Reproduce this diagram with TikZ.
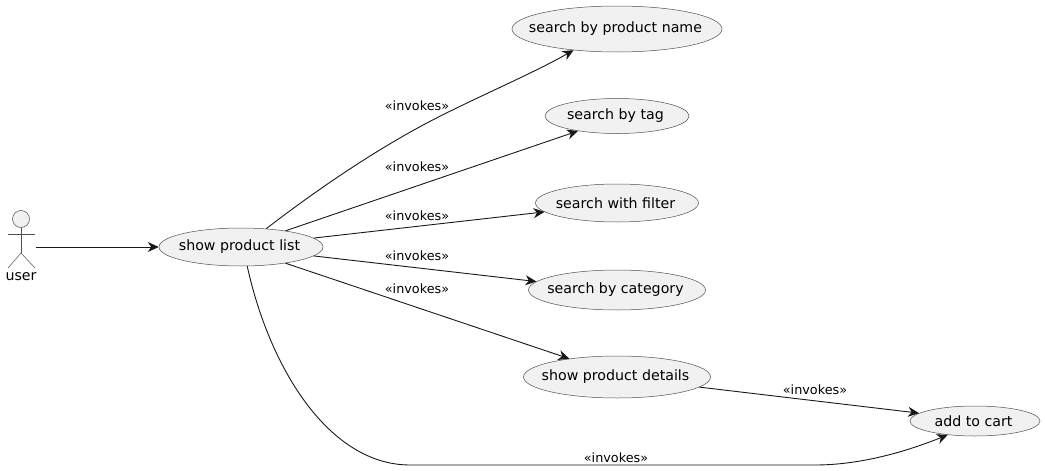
\documentclass[tikz,border=0pt]{standalone}
\usepackage{fontspec}
\setmainfont{DejaVu Sans}
\usetikzlibrary{arrows.meta}
\usetikzlibrary{shapes.geometric}

\definecolor{linec}{HTML}{181818}
\definecolor{thinc}{HTML}{505050}
\definecolor{fillc}{HTML}{F1F1F1}

\newcommand{\uctext}[1]{\makebox[0pt]{#1\kern3pt}}

\tikzset{
  usecase/.style={ellipse, draw=thinc, line width=0.5pt, fill=fillc, inner sep=0pt, font=\fontsize{14.2}{16}\selectfont},
  invokes/.style={inner sep=0pt, font=\fontsize{12.8}{15}\selectfont},
  actorline/.style={draw=thinc, line width=0.5pt},
  edge/.style={draw=linec, line width=0.9pt, -{Stealth[length=11pt,width=10pt,inset=3.5pt]}},
}

\begin{document}
\begin{tikzpicture}[x=1pt, y=1pt, node distance=87pt]
\useasboundingbox (0,0) rectangle (1045,-471);
% use cases
\node[usecase, minimum width=210pt, minimum height=46pt] (byname) at (617,-29) {\uctext{search by product name}};
\node[usecase, minimum width=144pt, minimum height=35pt] (bytag) [below of=byname] {\uctext{search by tag}};
\node[usecase, minimum width=163pt, minimum height=38pt] (byfilter) [below of=bytag] {\uctext{search with filter}};
\node[usecase, minimum width=177pt, minimum height=40pt] (bycategory) [below of=byfilter] {\uctext{search by category}};
\node[usecase, minimum width=187pt, minimum height=42pt] (details) [below of=bycategory] {\uctext{show product details}};
\node[usecase, minimum width=130pt, minimum height=30pt] (cart) at (975,-421) {\uctext{add to cart}};
\node[usecase, minimum width=164pt, minimum height=38pt] (list) at (241,-247) {\uctext{show product list}};
% actor
\node[circle, draw=thinc, line width=0.5pt, fill=fillc, minimum size=17pt, inner sep=0pt] (head) at (21,-219) {};
\coordinate (hip) at (21,-253);
\coordinate (userout) at (36,-247);
\node[inner sep=0pt, font=\fontsize{14.2}{16}\selectfont] (user) at (21,-277) {user};
\draw[actorline] (head) -- (hip);
\draw[actorline] (8,-234) -- (35,-234);
\draw[actorline] (8,-268) -- (hip) -- (35,-268);
% connectors
\draw[edge] (userout) -- (list.west);
\draw[edge] (list.36) .. controls (340,-172) and (395,-140) .. (425,-124) .. controls (470,-100) and (530,-75) .. (byname.206);
\draw[edge] (list.20) -- (bytag.201);
\draw[edge] (list.7) -- (byfilter.187);
\draw[edge] (list.-7) -- (bycategory.174);
\draw[edge] (list.-20) -- (details.159);
\draw[edge] (details.-7) -- (cart.172);
\draw[edge] (list.-72) .. controls (270,-370) and (330,-465) .. (410,-465) -- (815,-465) .. controls (860,-465) and (905,-452) .. (cart.207);
% labels
\node[invokes] (lab1) at (417,-106) {«invokes»};
\node[invokes] (lab2) at (417,-167) {«invokes»};
\node[invokes] (lab3) at (417,-216) {«invokes»};
\node[invokes] (lab4) at (417,-256) {«invokes»};
\node[invokes] (lab5) at (417,-289) {«invokes»};
\node[invokes] (lab6) at (815,-390) {«invokes»};
\node[invokes] (lab7) at (616,-458) {«invokes»};
\end{tikzpicture}
\end{document}
